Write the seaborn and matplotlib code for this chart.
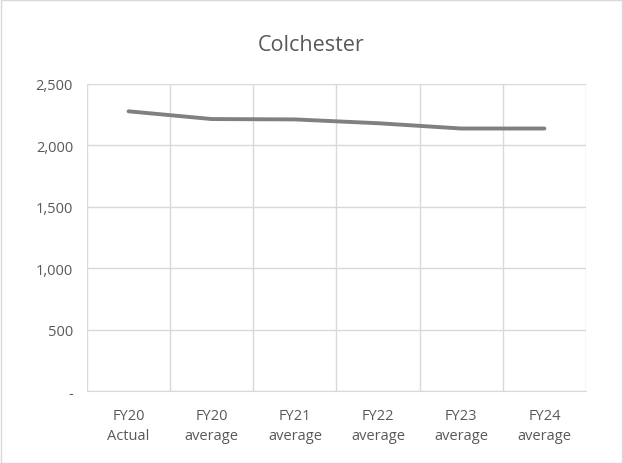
import matplotlib
matplotlib.use("Agg")
import matplotlib.pyplot as plt
import seaborn as sns
import pandas as pd
from matplotlib.ticker import FuncFormatter, FixedLocator

categories = ["FY20\nActual", "FY20\naverage", "FY21\naverage", "FY22\naverage", "FY23\naverage", "FY24\naverage"]
values = [2277, 2214, 2211, 2180, 2137, 2137]

df = pd.DataFrame({"pos": list(range(len(categories))), "value": values})

sns.set_style("white")
plt.rcParams["font.family"] = ["Open Sans", "DejaVu Sans"]

fig = plt.figure(figsize=(6.23, 4.64), dpi=100)
ax = fig.add_axes([0.1396, 0.155, 0.801, 0.662])

sns.lineplot(data=df, x="pos", y="value", ax=ax, color="#808080", linewidth=2.8,
             solid_capstyle="round")

ax.set_xlim(-0.5, len(categories) - 0.5)
ax.set_ylim(0, 2500)
ax.set_yticks([0, 500, 1000, 1500, 2000, 2500])
ax.yaxis.set_major_formatter(FuncFormatter(lambda v, p: "-" if v == 0 else f"{int(v):,}"))
ax.set_xticks(range(len(categories)))
ax.set_xticklabels(categories, linespacing=1.45)
ax.xaxis.set_minor_locator(FixedLocator([i - 0.5 for i in range(len(categories) + 1)]))

ax.grid(True, axis="y", which="major", color="#d9d9d9", linewidth=1)
ax.grid(True, axis="x", which="minor", color="#d9d9d9", linewidth=1)
ax.grid(False, axis="x", which="major")
ax.set_axisbelow(True)

for s in ["top", "right", "left"]:
    ax.spines[s].set_visible(False)
ax.spines["bottom"].set_color("#d9d9d9")
ax.tick_params(axis="both", which="both", length=0, colors="#595959", labelsize=10.5)
ax.tick_params(axis="x", pad=12)
ax.tick_params(axis="y", pad=10)
ax.set_xlabel("")
ax.set_ylabel("")

fig.text(0.5, 0.902, "Colchester", ha="center", va="center", fontsize=15.5, color="#595959")

border = plt.Rectangle((0.001, 0.001), 0.997, 0.997, transform=fig.transFigure,
                       fill=False, edgecolor="#d9d9d9", linewidth=1)
fig.patches.append(border)

fig.savefig("out.png", dpi=100, facecolor="white")
